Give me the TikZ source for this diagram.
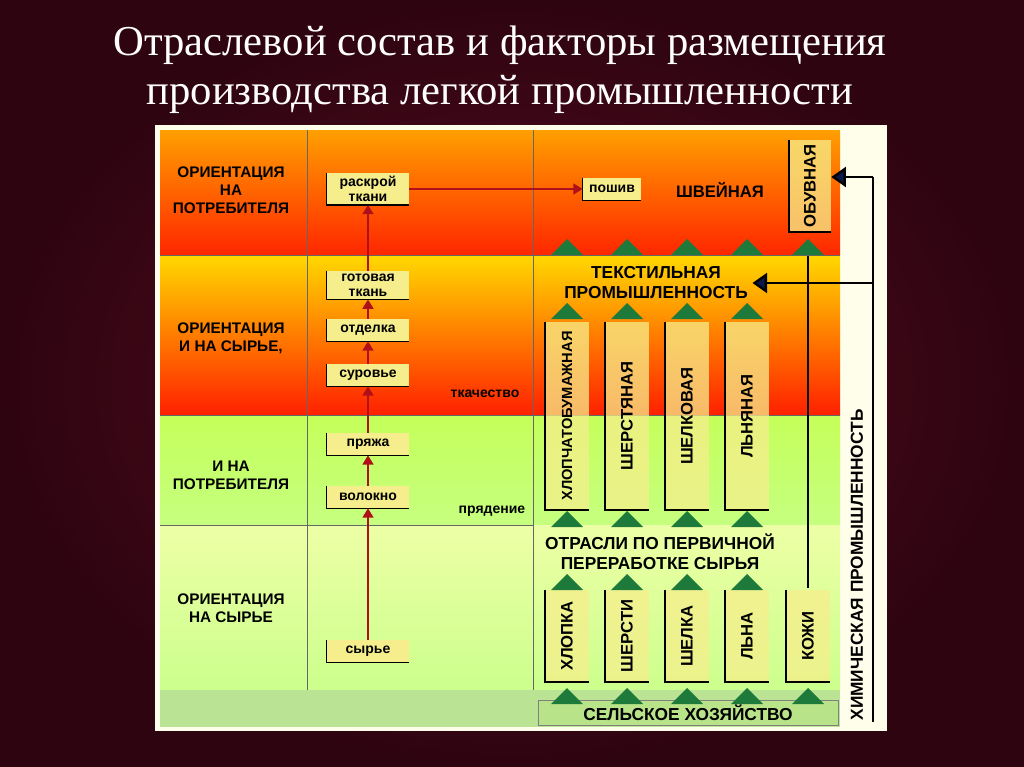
\documentclass[tikz,border=0pt]{standalone}
\usepackage{fontspec}
\setmainfont{Liberation Serif}
\newfontfamily\sansb{Liberation Sans}
\usetikzlibrary{arrows.meta}
\definecolor{bgc}{HTML}{5A0C22}
\definecolor{bgd}{HTML}{2E0410}
\definecolor{boxy}{HTML}{F6EE8C}
\definecolor{tri}{HTML}{1E7A3A}
\definecolor{navy}{HTML}{0B1A4A}
\definecolor{arr}{HTML}{B0101A}
\begin{document}
\begin{tikzpicture}[x=0.75pt,y=-0.75pt,
  lab/.style={font=\sansb\bfseries\fontsize{11.5}{13.5}\selectfont,align=center,text=black},
  big/.style={font=\sansb\bfseries\fontsize{12.5}{14.5}\selectfont,align=center,text=black},
  small/.style={font=\sansb\bfseries\fontsize{10.5}{11.5}\selectfont,align=center,text=black},
  ybox/.style={fill=boxy,small,inner sep=2pt,minimum width=82*0.75pt,minimum height=22*0.75pt},
  vbox/.style={fill=boxy,fill opacity=0.75,text opacity=1,big,rotate=90,inner sep=2pt},
  gtri/.style={fill=tri,draw=none},
  rarr/.style={draw=arr,line width=2.2pt,-{Triangle[length=7pt,width=8pt]}},
  narr/.style={draw=black,line width=1.8pt,-{Triangle[length=11pt,width=15pt,fill=navy]}}]
\useasboundingbox (0,0) rectangle (1024,767);
\shade[inner color=bgc,outer color=bgd] (0,0) rectangle (1024,767);
\node[text=white,font=\fontsize{32}{37}\selectfont,align=center] (title) at (500,70)
 {Отраслевой состав и факторы размещения\\производства легкой промышленности};
% panel
\fill[white!92!yellow] (155,125) rectangle (887,731);
\shade[top color=orange!75!yellow,bottom color=red!70!orange] (160,130) rectangle (840,255);
\shade[top color=yellow!70!orange,bottom color=red!75!orange] (160,255) rectangle (840,415);
\shade[top color=yellow!65!green!65!white,bottom color=yellow!55!green!50!white] (160,415) rectangle (840,525);
\shade[top color=green!20!yellow!35!white,bottom color=yellow!55!green!45!white] (160,525) rectangle (840,690);
\fill[yellow!40!green!45!white] (160,690) rectangle (840,727);
\draw[black!60,thin] (307,130) -- (307,690) (533,130) -- (533,690) (160,255)--(840,255) (160,415)--(840,415) (160,525)--(533,525);
% left labels
\node[lab] (l1) at (231,190) {ОРИЕНТАЦИЯ\\НА\\ПОТРЕБИТЕЛЯ};
\node[lab] (l2) at (231,338) {ОРИЕНТАЦИЯ\\И НА СЫРЬЕ,};
\node[lab] (l3) at (231,475) {И НА\\ПОТРЕБИТЕЛЯ};
\node[lab] (l4) at (231,608) {ОРИЕНТАЦИЯ\\НА СЫРЬЕ};
% process chain
\node[ybox,align=center] (rask) at (368,189) {раскрой\\ткани};
\node[ybox] (got) at (368,285) {готовая\\ткань};
\node[ybox] (otd) at (368,330) {отделка};
\node[ybox] (sur) at (368,375) {суровье};
\node[ybox] (pr) at (368,444) {пряжа};
\node[ybox] (vol) at (368,497) {волокно};
\node[ybox] (syr) at (368,651) {сырье};
\node[ybox,minimum width=58*0.75pt] (posh) at (612,189) {пошив};
\foreach \n in {rask,got,otd,sur,pr,vol,syr,posh}
  \draw[line width=1pt] (\n.north west) -- (\n.south west) -- (\n.south east);
\draw[rarr] (syr.north) -- (vol.south);
\draw[rarr] (vol.north) -- (pr.south);
\draw[rarr] (pr.north) -- (sur.south);
\draw[rarr] (sur.north) -- (otd.south);
\draw[rarr] (otd.north) -- (got.south);
\draw[rarr] (got.north) -- (rask.south);
\draw[rarr] (rask.east) -- (posh.west);
\node[small] (tk) at (485,394) {ткачество};
\node[small] (prd) at (492,511) {прядение};
\node[big] (shv) at (720,190) {ШВЕЙНАЯ};
\node[vbox,minimum width=92*0.75pt,minimum height=42*0.75pt] (obuv) at (810,186) {ОБУВНАЯ};
\node[big,font=\sansb\bfseries\fontsize{13}{15}\selectfont] (tekst) at (656,283) {ТЕКСТИЛЬНАЯ\\ПРОМЫШЛЕННОСТЬ};
\node[big,font=\sansb\bfseries\fontsize{13}{15}\selectfont] (otr) at (660,552) {ОТРАСЛИ ПО ПЕРВИЧНОЙ\\ПЕРЕРАБОТКЕ СЫРЬЯ};
% textile branches
\node[vbox,minimum width=188*0.75pt,minimum height=44*0.75pt,font=\sansb\bfseries\fontsize{11}{13}\selectfont] (b1) at (567,416) {ХЛОПЧАТОБУМАЖНАЯ};
\foreach \x/\t/\n in {627/ШЕРСТЯНАЯ/b2,687/ШЕЛКОВАЯ/b3,747/ЛЬНЯНАЯ/b4}
  \node[vbox,minimum width=188*0.75pt,minimum height=44*0.75pt] (\n) at (\x,416) {\t};
\foreach \x/\t/\n in {567/ХЛОПКА/p1,627/ШЕРСТИ/p2,687/ШЕЛКА/p3,747/ЛЬНА/p4,808/КОЖИ/p5}
  \node[vbox,minimum width=92*0.75pt,minimum height=44*0.75pt] (\n) at (\x,636) {\t};
\foreach \n in {obuv,b1,b2,b3,b4,p1,p2,p3,p4,p5}
  \draw[line width=1.2pt] (\n.north east) -- (\n.north west) -- (\n.south west);
\node[draw=black!50,fill=yellow!45!green!50!white,big,font=\sansb\bfseries\fontsize{13}{15}\selectfont,minimum width=300*0.75pt,minimum height=22*0.75pt] (selo) at (688,713) {СЕЛЬСКОЕ ХОЗЯЙСТВО};
% triangles
\foreach \y/\xs in {247/{567,627,687,747,808},311/{567,627,687,747},519/{567,627,687,747},582/{567,627,687,747},696/{567,627,687,747,808}}
  \foreach \x in \xs \fill[gtri] (\x-16,\y+8) -- (\x,\y-8) -- (\x+16,\y+8) -- cycle;
% leather line
\coordinate (kt) at (808,588);
\coordinate (kb) at (808,256);
\draw[line width=1.5pt] (kt) -- (kb);
% chemical industry
\coordinate (c1) at (873,177);
\coordinate (c2) at (873,283);
\coordinate (c3) at (873,722);
\draw[line width=1.8pt] (c3) -- (c1);
\draw[narr] (c1) -- (obuv.south |- c1);
\draw[narr] (c2) -- (tekst.east |- c2);
\node[big,font=\sansb\bfseries\fontsize{13}{15}\selectfont,rotate=90] (chem) at (857,565) {ХИМИЧЕСКАЯ ПРОМЫШЛЕННОСТЬ};
\end{tikzpicture}
\end{document}
